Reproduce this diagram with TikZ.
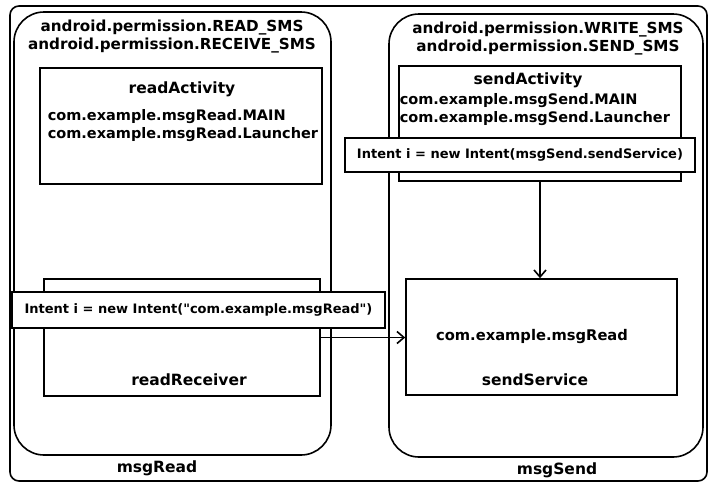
\documentclass[tikz,border=0pt]{standalone}
\usepackage{fontspec}
\setmainfont{DejaVu Sans}[Ligatures=TeXOff]
\usetikzlibrary{arrows.meta}
\begin{document}
\begin{tikzpicture}[x=1pt,y=-1pt,line width=1.6pt,font=\bfseries,
    >={Straight Barb[length=7pt,width=12pt]},
    box/.style={draw,rectangle,inner sep=0pt},
    app/.style={draw,rectangle,rounded corners=30pt,inner sep=0pt},
    intent/.style={draw,fill=white,rectangle,inner sep=0pt,font=\bfseries\fontsize{13}{15}\selectfont},
    txt/.style={inner sep=0pt,font=\bfseries\fontsize{15.5}{18}\selectfont}]
    \useasboundingbox (0,0) rectangle (721,493);
    % frame and the two apps
    \node[box,rounded corners=9pt,minimum width=697pt,minimum height=475pt] (dev) at (358.5,243.5) {};
    \node[app,minimum width=317pt,minimum height=443pt] (read) at (172.5,233.5) {};
    \node[app,minimum width=314pt,minimum height=443pt] (send) at (546,235.5) {};
    \node[txt,font=\bfseries\fontsize{15.2}{18}\selectfont,align=center] (rperm) at (172,37) {android.permission.READ\_SMS\\android.permission.RECEIVE\_SMS};
    \node[txt,font=\bfseries\fontsize{15.2}{18}\selectfont,align=center] (sperm) at (548,39) {android.permission.WRITE\_SMS\\android.permission.SEND\_SMS};
    \node[txt] (rname) at (157,468) {msgRead};
    \node[txt] (sname) at (557,470) {msgSend};

    % msgRead
    \node[box,minimum width=282pt,minimum height=116pt] (ra) at (181,126) {};
    \node[txt] (ratitle) at (182,89) {readActivity};
    \node[txt,font=\bfseries\fontsize{14.5}{18}\selectfont,anchor=west,align=left] (rafilter) at (47,126) {com.example.msgRead.MAIN\\com.example.msgRead.Launcher};
    \node[box,minimum width=276pt,minimum height=117pt] (rr) at (182,337.5) {};
    \node[txt] (rrtitle) at (189,380) {readReceiver};
    \node[intent,minimum width=373pt,minimum height=36pt] (ri) at (198.5,310) {Intent i = new Intent("com.example.msgRead")};

    % msgSend
    \node[box,minimum width=282pt,minimum height=115pt] (sa) at (540,123.5) {};
    \node[txt] (satitle) at (528,80) {sendActivity};
    \node[txt,font=\bfseries\fontsize{14.5}{18}\selectfont,anchor=west,align=left] (safilter) at (399,110) {com.example.msgSend.MAIN\\com.example.msgSend.Launcher};
    \node[intent,minimum width=350pt,minimum height=34pt] (si) at (520,155) {Intent i = new Intent(msgSend.sendService)};
    \node[box,minimum width=271pt,minimum height=116pt] (ss) at (541.5,337) {};
    \node[txt,font=\bfseries\fontsize{14.7}{18}\selectfont] (ssfilter) at (532,336) {com.example.msgRead};
    \node[txt] (sstitle) at (535,380) {sendService};

    \draw[->] (rr.east) -- (rr.east -| ss.west);
    \draw[->] (sa.south) -- (sa.south |- ss.north);
\end{tikzpicture}
\end{document}
